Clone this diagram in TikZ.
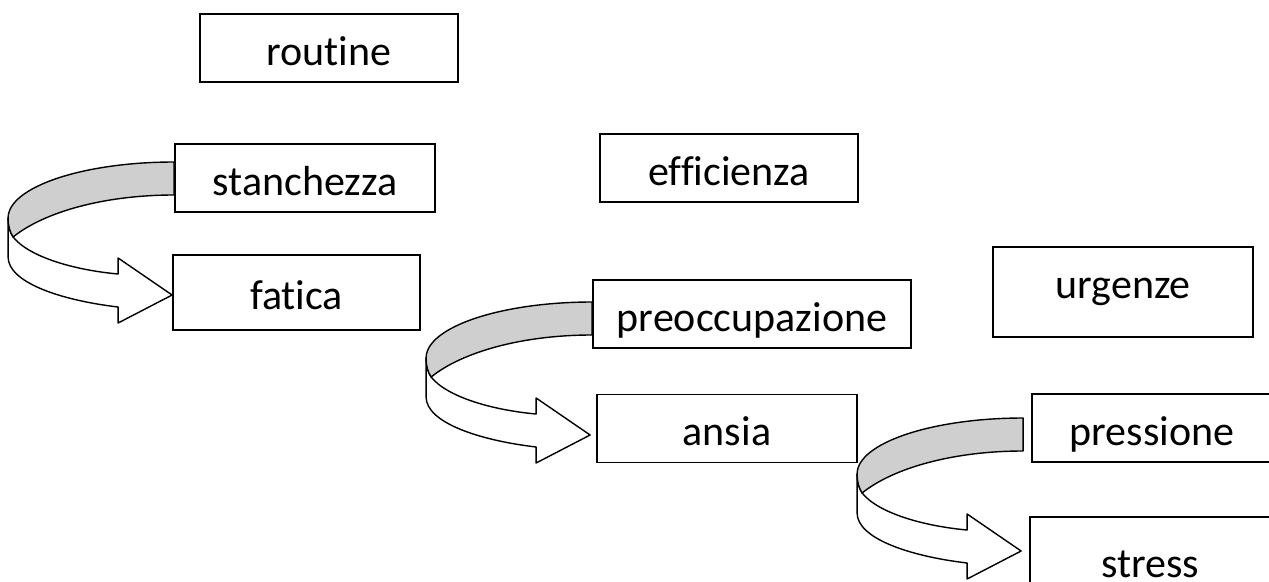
\documentclass[tikz,border=0pt]{standalone}
\usepackage{fontspec}
\setmainfont[Ligatures={NoCommon,NoContextual}]{Carlito}
\usetikzlibrary{positioning}
\definecolor{bandgray}{gray}{0.81}

\begin{document}
\begin{tikzpicture}[x=1pt, y=-1pt,
    box/.style={draw, line width=1.8pt, inner sep=0pt, minimum height=68pt,
        text height=40pt, text depth=6pt, font=\fontsize{42}{50}\selectfont},
    ribbon/.pic={
        % lower, white half of the turning band with its head
        \filldraw[fill=white, line width=1.4pt, line join=round]
            (-166,56) -- (-166,95) .. controls (-166,120) and (-115,138) .. (-56,145)
            -- (-56,161) -- (-2,133) -- (-56,96) -- (-56,112)
            .. controls (-100,108) and (-145,95) .. (-161,75)
            .. controls (-164,70) and (-166,65) .. cycle;
        % upper, shaded half
        \filldraw[fill=bandgray, line width=1.4pt, line join=round]
            (0,0) .. controls (-91,0) and (-166,25) .. (-166,56)
            .. controls (-166,65) and (-164,70) .. (-161,75)
            .. controls (-130,50) and (-70,33) .. (0,33) -- cycle;
    }]
    \useasboundingbox (0,0) rectangle (1269,581);

    \node[box, minimum width=258pt] (routine) at (329,48) {routine};
    \node[box, minimum width=260pt] (stanchezza) at (305,178) {stanchezza};
    \node[box, minimum width=258pt] (efficienza) at (729,168) {efficienza};
    \node[box, minimum width=247pt, minimum height=75pt] (fatica) at (296.5,292.5) {fatica};
    \node[box, minimum width=318pt] (preoccupazione) at (752,314) {preoccupazione};
    \node[box, minimum width=260pt, minimum height=90pt, text depth=28pt] (urgenze) at (1123,292) {urgenze};
    \node[box, minimum width=260pt] (ansia) at (727,428.5) {ansia};
    \node[box, minimum width=240pt] (pressione) at (1152,428) {pressione};
    \node[box, minimum width=240pt, minimum height=86pt] (stress) at (1150,560) {stress};

    \pic at ([yshift=16pt]stanchezza.west) {ribbon};
    \pic at ([yshift=12pt]preoccupazione.west) {ribbon};
    \pic at ([xshift=-8pt,yshift=10pt]pressione.west) {ribbon};
\end{tikzpicture}
\end{document}
